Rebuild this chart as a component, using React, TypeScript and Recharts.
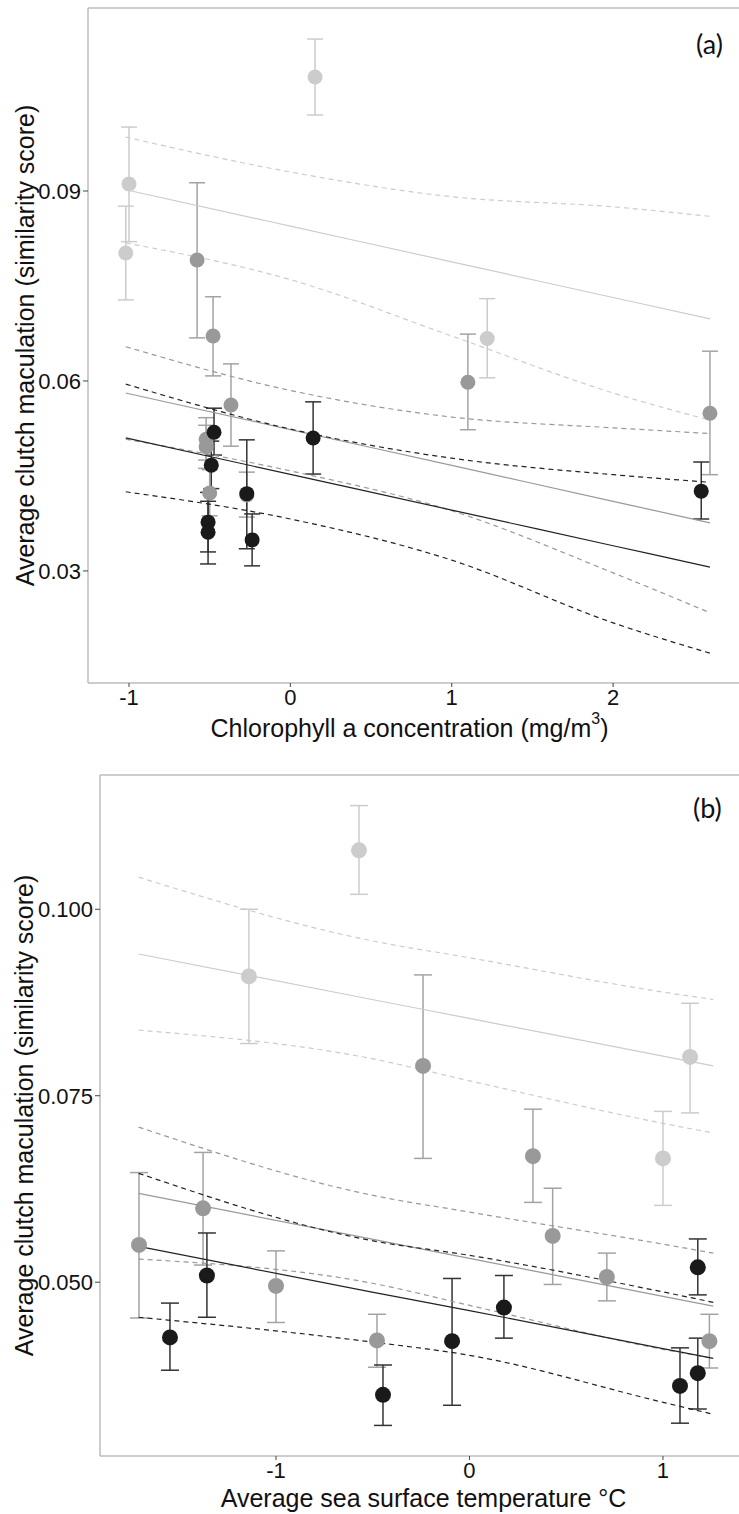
import React from 'react';
import { ComposedChart, Scatter, Line, XAxis, YAxis, ErrorBar, ReferenceLine, Label } from 'recharts';

// ---------- Panel (a): chlorophyll ----------
const chlXTicks = [-1, 0, 1, 2];
const chlYTicks = [0.03, 0.06, 0.09];

const chlLightX = [0.153, -1.0, -1.02, 1.22];
const chlLightY = [0.108, 0.0911, 0.0802, 0.0667];
const chlLightLo = [0.102, 0.082, 0.0728, 0.0605];
const chlLightHi = [0.114, 0.1001, 0.0876, 0.073];

const chlMidX = [-0.578, -0.479, -0.368, -0.522, -0.522, -0.5, -0.27, 1.1, 2.6];
const chlMidY = [0.0791, 0.0671, 0.0562, 0.0508, 0.0496, 0.0423, 0.042, 0.0598, 0.0549];
const chlMidLo = [0.0668, 0.0608, 0.0497, 0.0475, 0.0462, 0.0387, 0.0385, 0.0523, 0.0452];
const chlMidHi = [0.0913, 0.0733, 0.0627, 0.0542, 0.053, 0.046, 0.0456, 0.0674, 0.0647];

const chlDarkX = [-0.473, -0.49, -0.51, -0.51, -0.27, -0.237, 0.141, 2.546];
const chlDarkY = [0.0519, 0.0467, 0.0377, 0.0361, 0.0422, 0.0349, 0.051, 0.0426];
const chlDarkLo = [0.0483, 0.043, 0.033, 0.0311, 0.0335, 0.0308, 0.0453, 0.0382];
const chlDarkHi = [0.0557, 0.0505, 0.0424, 0.041, 0.0507, 0.039, 0.0567, 0.0472];

const chlFitX = [-1.02, 0, 1, 2, 2.6];
const chlLightFit = [0.0902, 0.08445, 0.07881, 0.07318, 0.0698];
const chlLightUpper = [0.0985, 0.093, 0.0891, 0.0875, 0.086];
const chlLightLower = [0.0818, 0.076, 0.0671, 0.0581, 0.0538];
const chlMidFit = [0.0581, 0.05232, 0.04666, 0.04099, 0.0376];
const chlMidUpper = [0.0654, 0.0585, 0.0543, 0.0526, 0.0517];
const chlMidLower = [0.0508, 0.0458, 0.0395, 0.0297, 0.0234];
const chlDarkFit = [0.051, 0.04525, 0.03961, 0.03398, 0.0306];
const chlDarkUpper = [0.0595, 0.0524, 0.0478, 0.0452, 0.044];
const chlDarkLower = [0.0425, 0.0382, 0.0317, 0.0218, 0.017];

// ---------- Panel (b): sea surface temperature ----------
const sstXTicks = [-1, 0, 1];
const sstYTicks = [0.05, 0.075, 0.1];

const sstLightX = [-0.571, -1.14, 1.14, 1.0];
const sstLightY = [0.1079, 0.091, 0.0802, 0.0666];
const sstLightLo = [0.102, 0.082, 0.0727, 0.0603];
const sstLightHi = [0.1139, 0.1, 0.0874, 0.0729];

const sstMidX = [-0.24, 0.328, 0.43, 0.71, 1.24, -0.478, -1.708, -1.377, -1.0];
const sstMidY = [0.079, 0.0669, 0.0562, 0.0507, 0.0421, 0.0422, 0.055, 0.0599, 0.0495];
const sstMidLo = [0.0666, 0.0607, 0.0497, 0.0475, 0.0385, 0.0386, 0.0452, 0.0523, 0.0446];
const sstMidHi = [0.0912, 0.0732, 0.0626, 0.0539, 0.0457, 0.0457, 0.0647, 0.0674, 0.0542];

const sstDarkX = [1.18, 0.178, -0.09, -0.447, 1.088, 1.18, -1.357, -1.548];
const sstDarkY = [0.052, 0.0466, 0.0421, 0.0349, 0.0361, 0.0378, 0.0509, 0.0426];
const sstDarkLo = [0.0483, 0.0425, 0.0335, 0.0308, 0.0311, 0.033, 0.0453, 0.0382];
const sstDarkHi = [0.0558, 0.0509, 0.0505, 0.0389, 0.0412, 0.0425, 0.0566, 0.0472];

const sstFitX = [-1.71, -0.51, 0, 1, 1.26];
const sstLightFit = [0.094, 0.08794, 0.08536, 0.08031, 0.079];
const sstLightUpper = [0.1043, 0.0958, 0.0935, 0.0889, 0.0879];
const sstLightLower = [0.0838, 0.08, 0.077, 0.0713, 0.07];
const sstMidFit = [0.0619, 0.0558, 0.0532, 0.0481, 0.0468];
const sstMidUpper = [0.0708, 0.0617, 0.0594, 0.0551, 0.0539];
const sstMidLower = [0.0531, 0.0499, 0.0469, 0.041, 0.0398];
const sstDarkFit = [0.0548, 0.0487, 0.0462, 0.0411, 0.0398];
const sstDarkUpper = [0.0646, 0.0556, 0.0536, 0.0487, 0.0473];
const sstDarkLower = [0.0453, 0.042, 0.0402, 0.0339, 0.0323];

// ---------- helpers ----------
const pts = (xs: number[], ys: number[], lo: number[], hi: number[]) =>
  xs.map((x, i) => ({ x, y: ys[i], err: [ys[i] - lo[i], hi[i] - ys[i]] }));
const line = (xs: number[], ys: number[]) => xs.map((x, i) => ({ x, y: ys[i] }));

const LIGHT = '#cccccc';
const MID = '#999999';
const DARK = '#1a1a1a';
const FRAME = '#bdbdbd';
const FONT = '"Liberation Sans", Arial, sans-serif';

const dot = (r: number, fill: string) => (props: any) =>
  <circle cx={props.cx} cy={props.cy} r={r} fill={fill} />;

type PanelProps = {
  width: number;
  height: number;
  yAxisWidth: number;
  xAxisHeight: number;
  xDomain: [number, number];
  yDomain: [number, number];
  xTicks: number[];
  yTicks: number[];
  yFmt: (v: number) => string;
  groups: { data: any[]; color: string; errColor: string }[];
  fits: { data: any[]; color: string; dashed: boolean }[];
  r: number;
  cap: number;
  xTitle: React.ReactNode;
  xTitleDx: number;
  xTitleDy: number;
  yTitleX: number;
};

const Panel = (p: PanelProps) => (
  <ComposedChart width={p.width} height={p.height} margin={{ top: 8, right: 0, bottom: 0, left: 0 }}>
    <XAxis
      type="number"
      dataKey="x"
      domain={p.xDomain}
      allowDataOverflow
      ticks={p.xTicks}
      tickFormatter={(v: number) => String(v)}
      height={p.xAxisHeight}
      axisLine={{ stroke: FRAME, strokeWidth: 1.5 }}
      tickLine={{ stroke: '#444', strokeWidth: 1 }}
      tickSize={4}
      tickMargin={2}
      tick={{ fontSize: 22, fill: '#111', fontFamily: FONT }}
    >
      <Label
        content={(lp: any) => {
          const vb = lp.viewBox;
          return (
            <text x={vb.x + vb.width / 2 + p.xTitleDx} y={vb.y + p.xTitleDy} textAnchor="middle" dominantBaseline="central"
              fontSize={25} fill="#111" fontFamily={FONT}>
              {p.xTitle}
            </text>
          );
        }}
      />
    </XAxis>
    <YAxis
      type="number"
      dataKey="y"
      domain={p.yDomain}
      allowDataOverflow
      ticks={p.yTicks}
      tickFormatter={p.yFmt}
      width={p.yAxisWidth}
      axisLine={{ stroke: FRAME, strokeWidth: 1.5 }}
      tickLine={{ stroke: '#444', strokeWidth: 1 }}
      tickSize={5}
      tickMargin={2}
      tick={{ fontSize: 22, fill: '#111', fontFamily: FONT }}
    >
      <Label
        content={(lp: any) => {
          const vb = lp.viewBox;
          const cx = p.yTitleX;
          const cy = vb.y + vb.height / 2;
          return (
            <text x={cx} y={cy} transform={`rotate(-90 ${cx} ${cy})`} textAnchor="middle" dominantBaseline="central"
              fontSize={25} fill="#111" fontFamily={FONT}>
              Average clutch maculation (similarity score)
            </text>
          );
        }}
      />
    </YAxis>
    <ReferenceLine y={p.yDomain[1]} stroke={FRAME} strokeWidth={1.5} />
    {p.groups.map((g, i) => (
      <Scatter key={'s' + i} data={g.data} isAnimationActive={false} shape={dot(p.r, g.color)}>
        <ErrorBar dataKey="err" direction="y" width={p.cap} stroke={g.errColor} strokeWidth={1.5} />
      </Scatter>
    ))}
    {p.fits.map((f, i) => (
      <Line
        key={'l' + i}
        data={f.data}
        dataKey="y"
        type="monotone"
        stroke={f.color}
        strokeWidth={1.2}
        strokeDasharray={f.dashed ? '5 4' : undefined}
        dot={false}
        activeDot={false}
        isAnimationActive={false}
      />
    ))}
  </ComposedChart>
);

const panelLabel = (text: string, left: number, top: number) => (
  <div style={{ position: 'absolute', left, top, fontFamily: 'Lato, "Open Sans", sans-serif', fontSize: 27, color: '#111', lineHeight: 1 }}>
    {text}
  </div>
);

export default function App() {
  const aGroups = [
    { data: pts(chlLightX, chlLightY, chlLightLo, chlLightHi), color: LIGHT, errColor: LIGHT },
    { data: pts(chlMidX, chlMidY, chlMidLo, chlMidHi), color: MID, errColor: '#a3a3a3' },
    { data: pts(chlDarkX, chlDarkY, chlDarkLo, chlDarkHi), color: DARK, errColor: '#333333' },
  ];
  const aFits = [
    { data: line(chlFitX, chlLightFit), color: LIGHT, dashed: false },
    { data: line(chlFitX, chlLightUpper), color: LIGHT, dashed: true },
    { data: line(chlFitX, chlLightLower), color: LIGHT, dashed: true },
    { data: line(chlFitX, chlMidFit), color: MID, dashed: false },
    { data: line(chlFitX, chlMidUpper), color: MID, dashed: true },
    { data: line(chlFitX, chlMidLower), color: MID, dashed: true },
    { data: line(chlFitX, chlDarkFit), color: '#222222', dashed: false },
    { data: line(chlFitX, chlDarkUpper), color: '#222222', dashed: true },
    { data: line(chlFitX, chlDarkLower), color: '#222222', dashed: true },
  ];
  const bGroups = [
    { data: pts(sstLightX, sstLightY, sstLightLo, sstLightHi), color: LIGHT, errColor: LIGHT },
    { data: pts(sstMidX, sstMidY, sstMidLo, sstMidHi), color: MID, errColor: '#a3a3a3' },
    { data: pts(sstDarkX, sstDarkY, sstDarkLo, sstDarkHi), color: DARK, errColor: '#333333' },
  ];
  const bFits = [
    { data: line(sstFitX, sstLightFit), color: LIGHT, dashed: false },
    { data: line(sstFitX, sstLightUpper), color: LIGHT, dashed: true },
    { data: line(sstFitX, sstLightLower), color: LIGHT, dashed: true },
    { data: line(sstFitX, sstMidFit), color: MID, dashed: false },
    { data: line(sstFitX, sstMidUpper), color: MID, dashed: true },
    { data: line(sstFitX, sstMidLower), color: MID, dashed: true },
    { data: line(sstFitX, sstDarkFit), color: '#222222', dashed: false },
    { data: line(sstFitX, sstDarkUpper), color: '#222222', dashed: true },
    { data: line(sstFitX, sstDarkLower), color: '#222222', dashed: true },
  ];

  return (
    <div style={{ position: 'absolute', left: 0, top: 0, width: 739, height: 1514, background: '#fff', overflow: 'hidden' }}>
      <div style={{ position: 'absolute', left: 0, top: 0 }}>
        <Panel
          width={739}
          height={745}
          yAxisWidth={88}
          xAxisHeight={62}
          xDomain={[-1.254, 2.78]}
          yDomain={[0.0123, 0.1189]}
          xTicks={chlXTicks}
          yTicks={chlYTicks}
          yFmt={(v) => v.toFixed(2)}
          groups={aGroups}
          fits={aFits}
          r={7.5}
          cap={8}
          xTitle={<>
            <tspan>Chlorophyll a concentration (mg/m</tspan>
            <tspan dy={-10} fontSize={16}>3</tspan>
            <tspan dy={10}>)</tspan>
          </>}
          xTitleDx={-4}
          xTitleDy={45}
          yTitleX={25}
        />
      </div>
      <div style={{ position: 'absolute', left: 0, top: 767 }}>
        <Panel
          width={739}
          height={747}
          yAxisWidth={100}
          xAxisHeight={58}
          xDomain={[-1.9096, 1.393]}
          yDomain={[0.0267, 0.118]}
          xTicks={sstXTicks}
          yTicks={sstYTicks}
          yFmt={(v) => v.toFixed(3)}
          groups={bGroups}
          fits={bFits}
          r={8}
          cap={9}
          xTitle="Average sea surface temperature °C"
          xTitleDx={4}
          xTitleDy={42}
          yTitleX={24}
        />
      </div>
      {panelLabel('(a)', 696, 30)}
      {panelLabel('(b)', 693, 794)}
    </div>
  );
}
